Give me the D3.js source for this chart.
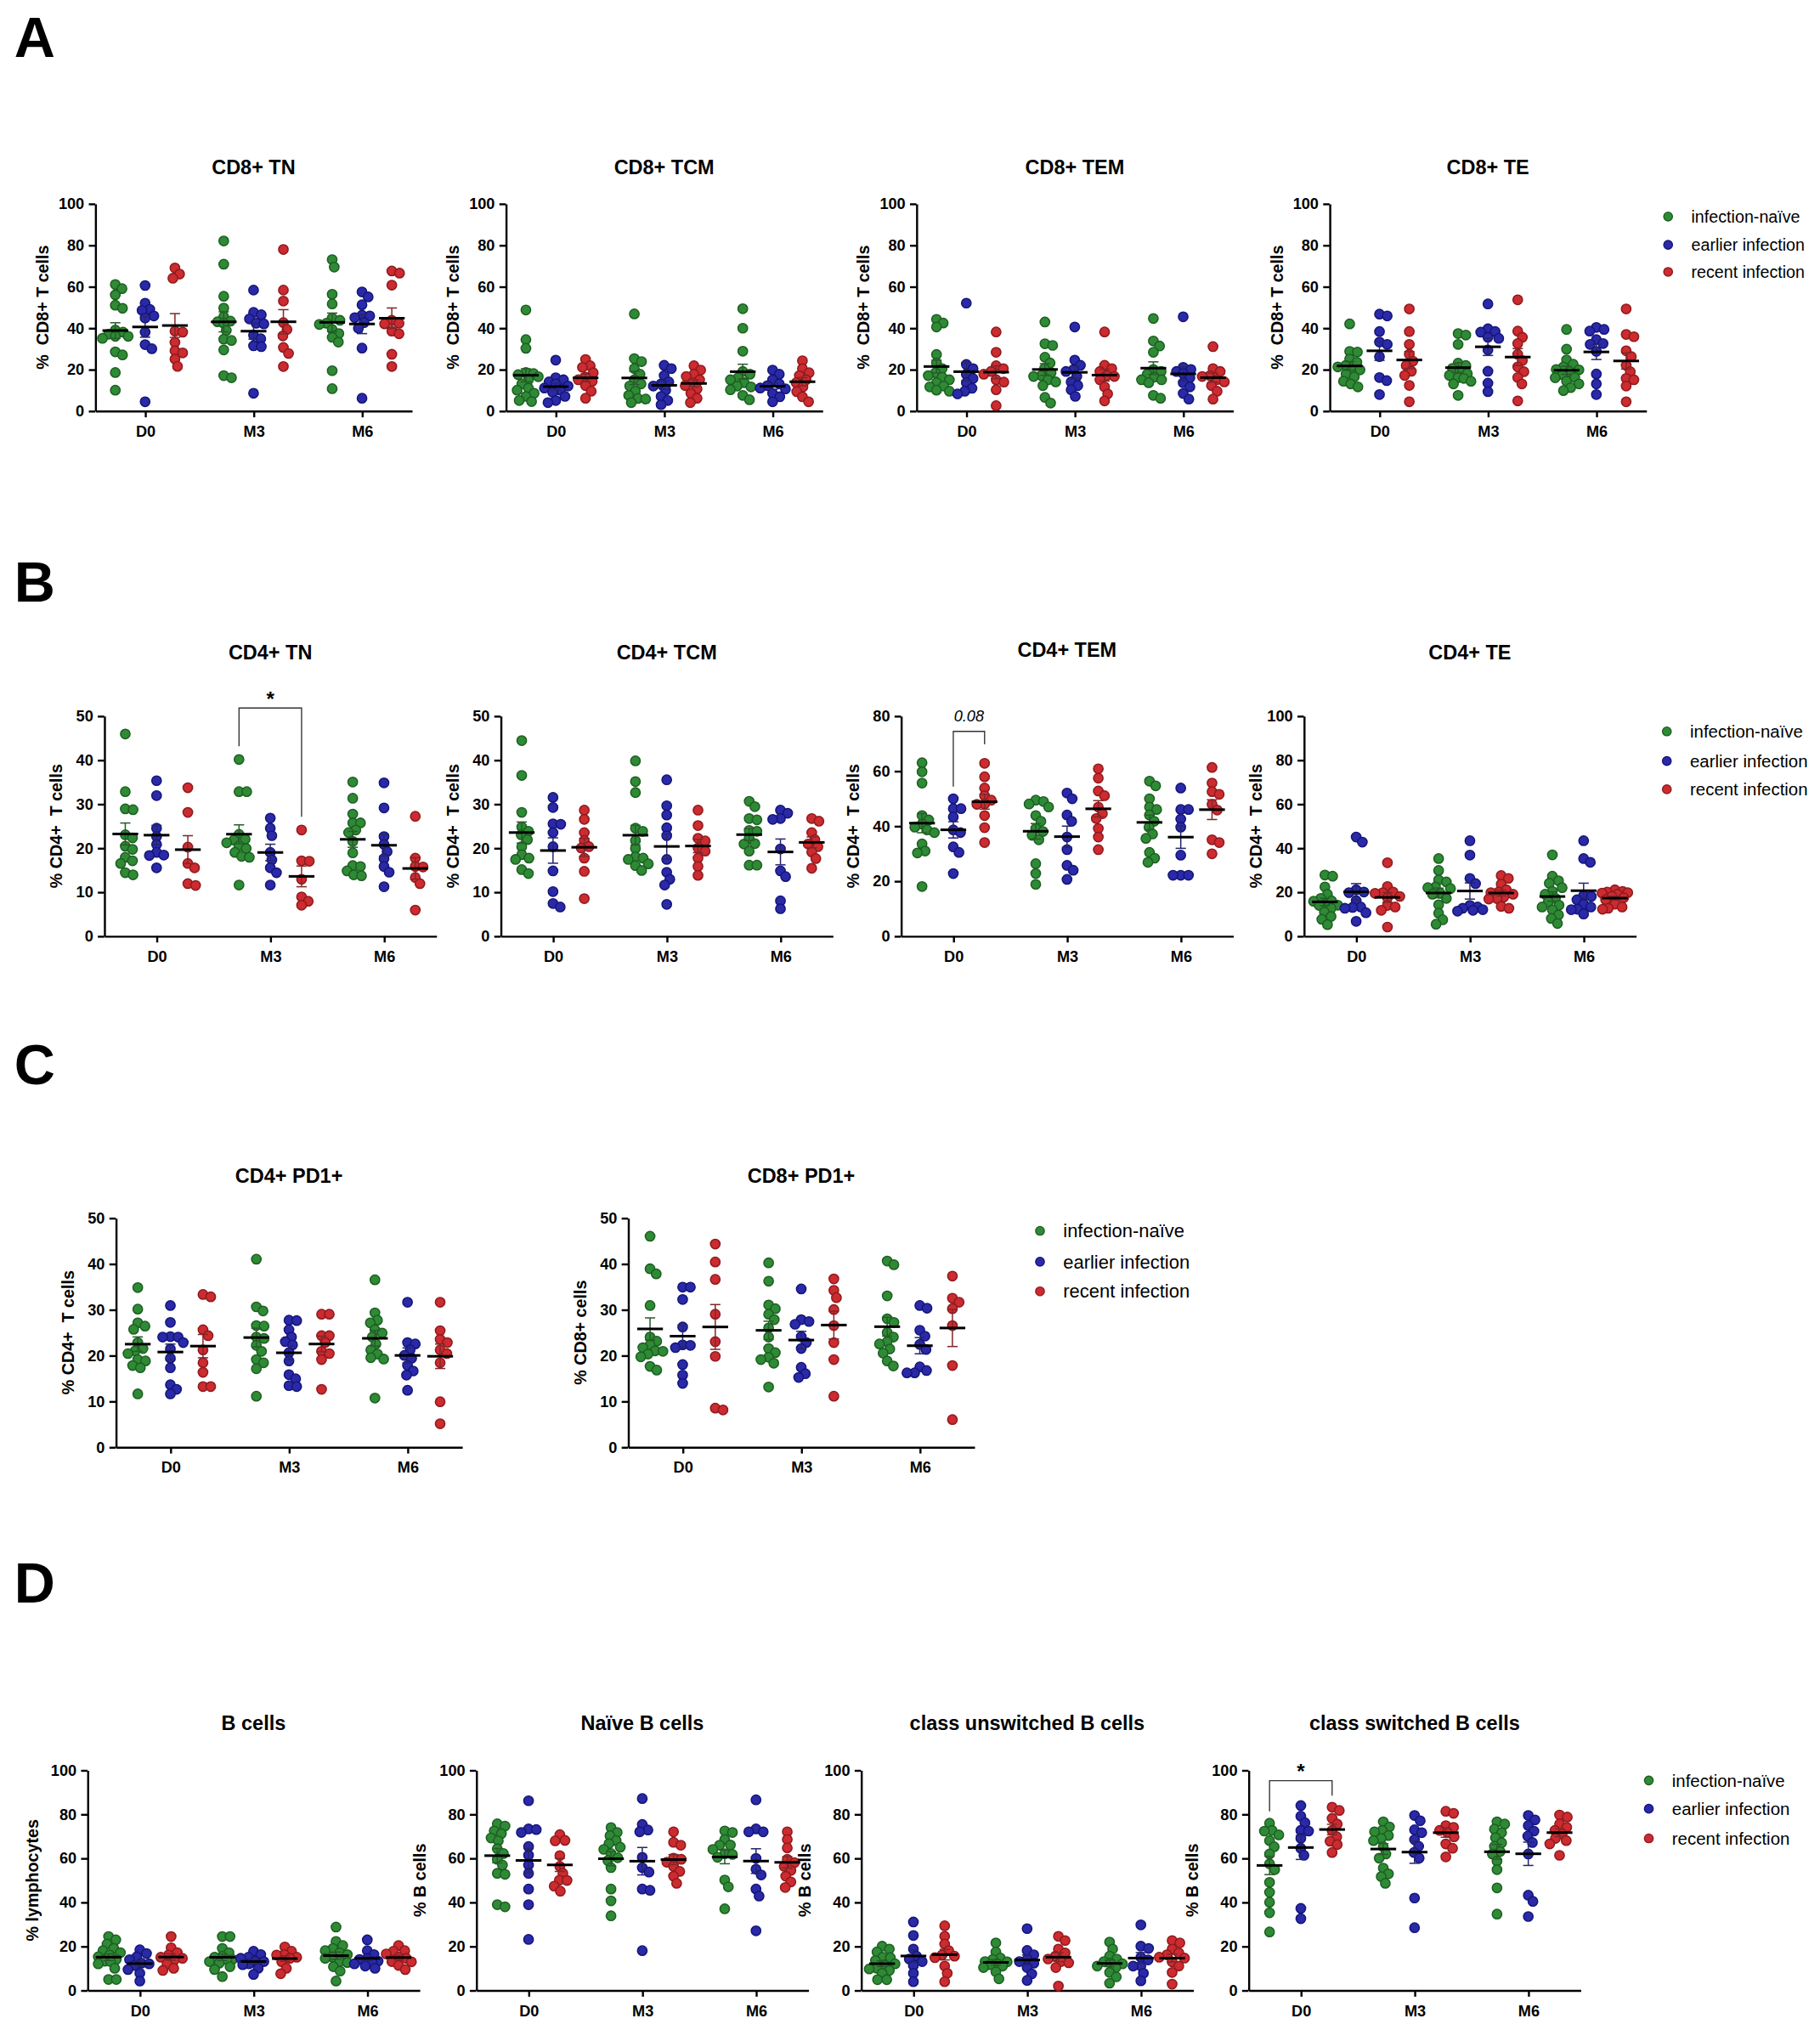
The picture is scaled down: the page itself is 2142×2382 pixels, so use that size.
<!DOCTYPE html>
<html>
<head>
<meta charset="utf-8">
<script src="https://cdn.jsdelivr.net/npm/d3@7"></script>
<style>
  body { margin: 0; background: #fff; }
  svg { display: block; }
  text { font-family: "Liberation Sans", Arial, sans-serif; }
</style>
</head>
<body>
<svg id="fig"></svg>
<script>
const timepoints = ["D0", "M3", "M6"];
const groups = ["infection-naïve", "earlier infection", "recent infection"];
const ticks100 = [0, 20, 40, 60, 80, 100];
const ticks80 = [0, 20, 40, 60, 80];
const ticks50 = [0, 10, 20, 30, 40, 50];

// each array: [D0 values, M3 values, M6 values]
// A  CD8+ TN
const cd8TN_naive = [[61,59,56,51,49.5,39,38,37,36,36,35,28.5,27,18.5,10],[82,70.8,55.3,49.6,45.4,43.3,43,42.3,38.8,34.6,34,29.4,17,16],[73,69.4,56.3,51.6,44.8,43.7,42.3,41.7,39.3,37.3,35.5,33.2,19.4,10.7]];
const cd8TN_earlier = [[60.5,52,49,48.5,45.8,44.8,38,32,30,4.4],[58.3,47.5,46.4,44.4,42.3,42,36.5,34.8,31.4,31,8.5],[57.4,55,51.2,46.2,45.8,45,42.6,39.9,30.3,6.1]];
const cd8TN_recent = [[69,66,64,38.5,38,33,28,29,25,21.5],[77.9,58.3,53,42.6,39.3,36.2,30.6,27.7,21.4],[67.5,66.5,60.7,43.7,42.3,42,38.5,37.2,27.3,21.4]];
// CD8+ TCM
const cd8TCM_naive = [[48.7,34.4,30.2,18.5,18,17.5,16.5,15,13,11,10,8.5,7,5,4.5],[46.8,25.2,23.8,20.4,17.7,15,13,12,9.5,7.5,6,5.7,4],[49.3,39.9,28.8,19,17.7,16,15,13.6,12,11.6,10.2,7.5,5.4]];
const cd8TCM_earlier = [[24.5,16,15,14,13,12,11,10,9,7,5,4],[22,20.4,17,14,13,12,10,7,5,3],[19.7,17.7,15,13,12.2,11,10.6,8.4,6.8,4.4]];
const cd8TCM_recent = [[24.8,21.8,21,18.4,16.3,15,14.3,12.2,9.5,6.1],[21.8,19.7,17.7,16.6,15,13.6,12.2,10.6,8.4,6.1,4],[24.2,20.4,18.4,17,15,13.6,11.6,9.3,6.8,4.4]];
// CD8+ TEM
const cd8TEM_naive = [[44.2,42.4,40.5,27.2,23.1,20.4,18.4,17,16.3,15,13.6,12,11.6,10,9.5],[42.9,32.4,31.6,25.9,23.1,20.4,18.4,17,16.6,15,14,12.2,6.5,3.8],[44.6,33.7,31.3,28.3,20,19,17.7,16.3,15,15,13.6,7.5,6.1]];
const cd8TEM_earlier = [[52,22.4,20.4,17.7,15.6,13.6,10.9,9.5,8.2],[40.5,24.5,22,20,19,16.6,14,12.2,10.2,7],[45.4,21,20,19,18,16,13.6,11.6,8.4,5.7]];
const cd8TEM_recent = [[38.1,28.3,21.8,20.4,19,17.7,15,13.9,10.2,2.5],[38.1,22,20.4,19,17,16.6,15,11.6,8.2,4.8],[31,20.4,19,17,16.6,15,14,12.2,9.5,5.7]];
// CD8+ TE
const cd8TE_naive = [[42,28.7,28.4,25,23.5,21.9,21.2,20,19.8,17.8,16.4,14.3,13,11.6],[37.3,36.6,32.1,23,21.9,20.5,19.1,18,17.1,16,15.7,14.3,13,7.5],[39.3,29.8,24.6,22.5,21.2,20,19.8,18.9,17.5,16.1,16,14.3,13,11.2,9.8]];
const cd8TE_earlier = [[46.7,45.8,38.3,33.2,32.1,26.2,16.1,14.6,7.9],[51.6,39.6,38.3,38,35.5,35,29.4,19.1,13.4,9.3],[40.3,39.3,38.5,34.4,32.5,32.1,28.7,17.8,13,7.9]];
const cd8TE_recent = [[49.2,38.3,32.1,27.3,24,21.9,19.1,17.1,12.3,4.4],[53.6,38.5,35.5,32.5,27.3,24.3,21.2,18.9,16.1,13,4.8],[49.2,36.9,35.8,29,26.2,22,18.9,15.7,15,12,4.4]];

// B  CD4+ TN
const cd4TN_naive = [[45.9,32.8,28.9,28.7,23,22.3,20.4,19.7,17.9,17.1,16.5,14.4,13.9],[40.1,32.8,32.8,23.1,22,21.8,21.2,20.5,19.9,19,18.1,17.9,11.6],[35,31.3,27.7,25.7,25.7,24.1,23.5,21.5,18.9,16,15.8,14.8,13.9,13.7]];
const cd4TN_earlier = [[35.3,31.9,24.5,22.6,20.8,19,18.4,18.3,15.5],[26.8,24.5,22.8,19,17.3,15.5,14.4,11.6],[34.8,29.1,22.6,20.8,19.2,17.6,15.8,14.5,11.2]];
const cd4TN_recent = [[33.7,28.1,20.2,16.5,15.5,11.9,11.5],[24.1,17.1,17,12.9,8.9,7.9,7],[27.2,17.7,15.8,15.7,13.3,11.9,5.9]];
// CD4+ TCM
const cd4TCM_naive = [[44.4,36.5,28.1,24.8,23.8,23,21.9,20.3,18.5,17.7,17.4,15.1,14.2],[39.8,35.1,32.6,24.5,23.8,21.7,19.9,18,17.7,17.4,16.4,16,14.9],[30.6,29.4,26.7,26.4,24,23.8,22.2,21,20.9,19.3,16.1,16.1]];
const cd4TCM_earlier = [[31.5,29.2,25.5,25.4,23.5,20.3,14.8,10.1,7.4,6.6],[35.5,29.6,27.5,24.6,22.8,17.4,14.5,12.9,11.6,7.2],[28.6,27.9,26.7,26.5,19.8,14.8,13.5,8,6.2]];
const cd4TCM_recent = [[28.6,26.5,23.5,21.7,20.3,20,17.7,14.7,8.5],[28.6,25.1,22.2,21.6,20,19.3,17.7,15.8,13.8],[26.7,26.1,23.5,21.9,20.9,20.3,19.1,17.6,15.4]];
// CD4+ TEM
const cd4TEM_naive = [[63,59.7,55.6,43.8,42.2,40.7,39.6,38.6,37.6,33.5,30.9,30.2,18],[49.4,48.9,48,46.9,43.8,41.7,39.1,38,36.6,35,26.3,22.7,18.8],[56.3,54.6,49.9,46.9,46,44,41.7,39.6,37.1,35.5,30.4,28.3,26.8]];
const cd4TEM_earlier = [[49.9,46.3,46.3,43.3,38.6,37.6,32.4,30.4,22.7],[52,49.9,44,41.7,36,31.4,25.7,23.9,20.6],[53.8,46,46,42.5,39.6,29.4,22.1,22.1,22.1]];
const cd4TEM_recent = [[62.8,57.9,53.8,51,49.4,48,47.9,43.8,39.4,34],[60.8,57.4,52.7,51,46.9,44.5,42.7,39.1,36,31.4],[61.3,55.6,52.5,51.5,47.9,45.8,35,34,29.9]];
// CD4+ TE
const cd4TE_naive = [[27.7,27.2,22.3,19,17.1,16,15.8,14.5,14,13.9,12.6,10.9,8.9,7.6,5.2],[35.2,29.8,25.5,24.6,22.3,22,21.6,19.4,19,17.1,14.2,10.4,7.4,5.4],[36.9,27.2,25.1,24,22,20.3,19,17.1,15.5,14,13.2,11.9,9.6,8,5.7]];
const cd4TE_earlier = [[45,42.7,21,20,19.7,16.1,13.2,13,12.6,10.6,6.7],[43.3,36.8,26.2,23.8,13.9,13.2,12.6,12,11.7,11.3],[43.3,35.2,33.5,18.4,18,16.5,14.5,13.2,12.2,12,10]];
const cd4TE_recent = [[33.3,22.5,20,19.7,19.4,18,17.4,13.9,13.2,11.7,4.1],[27.5,26.2,23.6,21,20,19.7,19,17.7,17,16.8,13.5,12.6],[21,20.3,20,19.7,19.5,19,18.1,17.4,16.5,14.5,13.2,12.6,12.2]];

// C  CD4+ PD1+
const cd4PD1_naive = [[34.8,30.1,27.1,26.4,25.7,22.8,21.5,21,20.4,19.1,18.8,17.8,17.3,11.6],[41,30.6,29.7,26.5,26.4,24,23.7,22.2,20.9,19.1,18.4,17.1,11.1],[36.5,29.3,27.7,27.1,25.6,24.9,24,22.5,21.2,20.3,19.5,19.2,10.7]];
const cd4PD1_earlier = [[30.9,27.2,24.1,24,24,22.8,21.4,19.4,17.3,13.6,12.6,11.6],[27.7,27.6,25.6,24,23,22.3,20.6,18.8,15.8,14.9,13.4,13.2],[31.6,22.8,22.5,21.2,20,19.4,17.8,16.6,15.7,12.4]];
const cd4PD1_recent = [[33.3,32.8,25.6,24.3,21.2,18.4,16.3,13.2,13.2],[29,29,24.3,24.3,22.8,20.9,20.4,19.1,12.6],[31.6,25.4,23.5,22.8,21.2,20.4,18.4,9.9,5.1]];
// CD8+ PD1+
const cd8PD1_naive = [[46,38.9,37.8,30.9,24,23.1,22.3,21.7,21,20.9,20.3,19.7,17.6,16.8],[40.2,36.2,31,30.2,29,27.8,26,24,21.5,20.6,19.6,19.1,18.3,13.1],[40.6,39.8,33,28,27.2,25,24,23,22.5,21.4,20.5,18.8,17.7]];
const cd8PD1_earlier = [[34.9,34.9,32.2,26.2,22.3,22.2,21.7,18,15.7,13.9],[34.5,27.8,27.4,26.8,24.1,22.8,21.5,17.4,16,15.2],[30.9,30.3,25.5,24.2,22.4,21.3,17.5,16.7,16.2,16.2]];
const cd8PD1_recent = [[44.3,40.4,36.6,29,23,19.8,8.5,8.1],[36.7,34.2,32.6,30,26.5,22.8,19.1,11.1],[37.3,32.5,31.6,30.2,26.5,17.8,6]];

// D  B cells
const bCells_naive = [[24.4,22.9,21,19,18,17.1,16,15.2,14,13.2,13,12,10,4.9,4.9],[24.4,24.4,19,17.1,15.4,15,14,13.9,13,12.3,10.7,9.4,6.2],[28.7,22.2,20.3,19,18,17,16.2,15,14.5,13,12.6,10.7,8.7,4.2]];
const bCells_earlier = [[18.4,16.7,15.2,13.9,12.3,12,11.3,9.4,7.7,4.2],[17.7,16.2,15,14.5,13.2,13,12,11.6,10,7.2],[22.9,18,16.2,14.5,14,13.2,13,12,11,10]];
const bCells_recent = [[24.4,19.3,17.1,16,15,14.5,13.6,12,10,9],[19.7,17.7,16.2,16,15,14.5,12.9,10,7.5],[20.3,18,17.7,16.5,15,14.5,13,12.9,11.3,9.4]];
// Naive B cells
const naiveB_naive = [[75.6,74.6,72.4,71.1,69.2,67.9,64.3,62.1,59.5,56.9,53.1,52.7,38.9,37.9],[73.9,71.7,70.2,68,66.6,65,64,62.1,60.2,58.9,55.7,46,40.6,33.8],[72.4,71.7,68.5,66,65.9,64,62,61.7,60.4,50.1,47,37]];
const naiveB_earlier = [[86.1,73.3,73,71.7,65.3,61.4,56.9,53.1,46,38.9,23.1],[87.1,75.3,72.8,72,60.4,55.7,53.7,46,45.4,18],[86.5,73.3,72,72,59.9,55,52.4,46,42.8,27]];
const naiveB_recent = [[70.7,68.1,67.9,61.2,56.3,53.1,50,49.9,47.3,45],[72,67.2,65.9,60,59.5,58.2,56.3,54,51.8,48.6],[72,68.5,64.7,59.5,58,56.3,54.4,51.8,49.2,46.7]];
// class unswitched B cells
const unswB_naive = [[20,18.7,17.4,15,14.8,13.5,12,11.6,10,9.7,9,7.7,4.8,4.8],[21.5,17.4,14.6,14,13,12.9,12,11.6,11,10.3,8.4,5.2],[21.9,18.7,15.5,14.2,13,12.3,12,11,10.3,8.1,6.1,3.2]];
const unswB_earlier = [[31,24.9,18.7,15.5,14.2,13,11.2,7.7,3.9],[28,18.1,16.1,14,13,12.3,10.3,7.4,4.5],[29.7,20,19,15,13.8,11,11,7.7,4.3]];
const unswB_recent = [[29.3,24.5,21,18,16,15.5,14.8,11,7.7,3.9],[24.5,22.6,18.7,17,15.5,14.2,13,12.5,10.3,1.9],[22.6,21.5,18.7,17,16.1,15,14.6,12.9,11,8.1,2.8]];
// class switched B cells
const swB_naive = [[75.9,72.6,72.3,70.6,68,65.2,61.9,57.4,54.8,49,44.5,40,35.2,26.5],[76.5,74.2,72.6,72,70.3,69,68,65.2,61.9,60,55.5,52.9,51.6,48.6],[76.5,75.5,73.2,71.6,69.3,67,65.4,63,61.9,58.7,54.8,46.5,34.6]];
const swB_earlier = [[83.9,79.1,76.1,72.6,72.3,69,64.5,61.3,37.2,32.5],[79.4,77,72.9,71.6,68.4,65.4,62.6,60,41.9,28.4],[79.4,77.4,74.8,72.3,70,67.1,61.9,43.2,40.4,33.5]];
const swB_recent = [[83.2,81.7,78.1,75.5,72.6,69.7,67.7,66.2,62.6],[81.3,80.4,74.8,74,72.6,71.6,69.7,66.5,64.5,60.6],[79.6,78.7,75.5,74,72.6,71,69,68,66.5,61.3]];

// significance brackets: timepoint, two groups, bracket top and leg ends in axis units
const cd4TN_sig = { time: "M3", a: 0, b: 2, top: 51.8, ends: [43.1, 27.1], label: "*" };
const cd4TEM_sig = { time: "D0", a: 1, b: 2, top: 74.4, ends: [54.3, 69.7], label: "0.08" };
const swB_sig = { time: "D0", a: 0, b: 2, top: 95.2, ends: [81.3, 88.4], label: "*" };

// ---- drawing ----
const fill = ["#2f8a35", "#2a2aa8", "#cc2b30"];
const edge = ["#1d5f22", "#15157a", "#8f1a1d"];
const R = 3.7;

const svg = d3.select("#fig")
  .attr("width", 2142).attr("height", 2382)
  .attr("viewBox", "0 0 1414 1572");

const panels = [
  {title: "CD8+ TN",  ylab: "%  CD8+ T cells", s: [cd8TN_naive, cd8TN_earlier, cd8TN_recent],   ticks: ticks100, x0: 74,   top: 158, bot: 319, w: 246, ty: 135, lo: 41},
  {title: "CD8+ TCM", ylab: "%  CD8+ T cells", s: [cd8TCM_naive, cd8TCM_earlier, cd8TCM_recent], ticks: ticks100, x0: 393,  top: 158, bot: 319, w: 246, ty: 135, lo: 41},
  {title: "CD8+ TEM", ylab: "%  CD8+ T cells", s: [cd8TEM_naive, cd8TEM_earlier, cd8TEM_recent], ticks: ticks100, x0: 712,  top: 158, bot: 319, w: 246, ty: 135, lo: 41},
  {title: "CD8+ TE",  ylab: "%  CD8+ T cells", s: [cd8TE_naive, cd8TE_earlier, cd8TE_recent],    ticks: ticks100, x0: 1033, top: 158, bot: 319, w: 246, ty: 135, lo: 41},

  {title: "CD4+ TN",  ylab: "% CD4+  T cells", s: [cd4TN_naive, cd4TN_earlier, cd4TN_recent],    ticks: ticks50,  x0: 81,   top: 556, bot: 727, w: 258, ty: 512, lo: 37, sig: cd4TN_sig},
  {title: "CD4+ TCM", ylab: "% CD4+  T cells", s: [cd4TCM_naive, cd4TCM_earlier, cd4TCM_recent], ticks: ticks50,  x0: 389,  top: 556, bot: 727, w: 258, ty: 512, lo: 37},
  {title: "CD4+ TEM", ylab: "% CD4+  T cells", s: [cd4TEM_naive, cd4TEM_earlier, cd4TEM_recent], ticks: ticks80,  x0: 700,  top: 556, bot: 727, w: 258, ty: 510, lo: 37, sig: cd4TEM_sig},
  {title: "CD4+ TE",  ylab: "% CD4+  T cells", s: [cd4TE_naive, cd4TE_earlier, cd4TE_recent],    ticks: ticks100, x0: 1013, top: 556, bot: 727, w: 258, ty: 512, lo: 37},

  {title: "CD4+ PD1+", ylab: "% CD4+  T cells", s: [cd4PD1_naive, cd4PD1_earlier, cd4PD1_recent], ticks: ticks50, x0: 90,  top: 946, bot: 1124, w: 269, ty: 919, lo: 37},
  {title: "CD8+ PD1+", ylab: "% CD8+ cells",    s: [cd8PD1_naive, cd8PD1_earlier, cd8PD1_recent], ticks: ticks50, x0: 488, top: 946, bot: 1124, w: 269, ty: 919, lo: 37},

  {title: "B cells",                  ylab: "% lymphocytes", s: [bCells_naive, bCells_earlier, bCells_recent], ticks: ticks100, x0: 68,  top: 1375, bot: 1546, w: 258, ty: 1344, lo: 43},
  {title: "Naïve B cells",            ylab: "% B cells",     s: [naiveB_naive, naiveB_earlier, naiveB_recent], ticks: ticks100, x0: 370, top: 1375, bot: 1546, w: 258, ty: 1344, lo: 44},
  {title: "class unswitched B cells", ylab: "% B cells",     s: [unswB_naive, unswB_earlier, unswB_recent],    ticks: ticks100, x0: 669, top: 1375, bot: 1546, w: 258, ty: 1344, lo: 44},
  {title: "class switched B cells",   ylab: "% B cells",     s: [swB_naive, swB_earlier, swB_recent],          ticks: ticks100, x0: 970, top: 1375, bot: 1546, w: 258, ty: 1344, lo: 44, sig: swB_sig}
];

const legends = [
  {x: 1296, y: [168, 190, 211], fs: 13},
  {x: 1295, y: [568, 591, 613], fs: 13.5},
  {x: 808,  y: [956, 980, 1003], fs: 14.5},
  {x: 1281, y: [1383, 1405, 1428], fs: 13.5}
];

const letters = [["A", 44], ["B", 467], ["C", 842], ["D", 1245]];

// swarm: points placed in value order, nudged sideways within a narrow band;
// partial overlap is allowed like the original scatter dot plots
function swarm(vals, y) {
  const pts = vals.map(v => ({ v: v, y: y(v), dx: 0 })).sort((a, b) => a.y - b.y);
  const placed = [];
  const d = 2 * R * 0.8, maxDx = 10;
  pts.forEach(p => {
    let best = 0, bestGap = -1;
    for (let k = 0; k <= 2 * maxDx / 0.4; k++) {
      const c = (k % 2 ? 1 : -1) * Math.ceil(k / 2) * 0.4;
      const gap = placed.length ? d3.min(placed, q => Math.hypot(q.dx - c, q.y - p.y)) : Infinity;
      if (gap >= d) { best = c; bestGap = gap; break; }
      if (gap > bestGap + 0.5) { best = c; bestGap = gap; }
    }
    p.dx = best;
    placed.push(p);
  });
  return pts;
}

function drawPanel(p) {
  const g = svg.append("g");
  const y = d3.scaleLinear().domain([0, d3.max(p.ticks)]).range([p.bot, p.top]);
  const x = d3.scalePoint().domain(timepoints).range([p.x0, p.x0 + p.w]).padding(0.46);
  const off = x.step() * 0.275;

  const ya = g.append("g").attr("transform", `translate(${p.x0},0)`)
    .call(d3.axisLeft(y).tickValues(p.ticks).tickSize(5).tickSizeOuter(0).tickPadding(3.5));
  const xa = g.append("g").attr("transform", `translate(0,${p.bot})`)
    .call(d3.axisBottom(x).tickSize(5).tickSizeOuter(0).tickPadding(6.5));
  [ya, xa].forEach(a => {
    a.attr("font-family", null).attr("font-size", 12).attr("font-weight", "bold");
    a.selectAll("path, line").attr("stroke", "#000").attr("stroke-width", 1.6);
    a.selectAll("text").attr("fill", "#000");
  });

  g.append("text").attr("x", p.x0 + p.w / 2).attr("y", p.ty)
    .attr("text-anchor", "middle").attr("font-size", 15.5).attr("font-weight", "bold").text(p.title);

  const cy = (p.top + p.bot) / 2;
  g.append("text").attr("transform", `translate(${p.x0 - p.lo + 4.5},${cy}) rotate(-90)`)
    .attr("text-anchor", "middle").attr("font-size", 13).attr("font-weight", "bold")
    .style("white-space", "pre").text(p.ylab);

  p.s.forEach((ser, gi) => {
    ser.forEach((vals, ti) => {
      const cx = x(timepoints[ti]) + (gi - 1) * off;
      g.append("g").selectAll("circle").data(swarm(vals, y)).join("circle")
        .attr("cx", d => cx + d.dx).attr("cy", d => d.y).attr("r", R)
        .attr("fill", fill[gi]).attr("stroke", edge[gi]).attr("stroke-width", 1);

      const m = d3.mean(vals), se = d3.deviation(vals) / Math.sqrt(vals.length);
      const ec = d3.interpolateRgb(fill[gi], "#222")(0.45);
      const eb = g.append("g").attr("stroke", ec).attr("stroke-width", 1);
      eb.append("line").attr("x1", cx).attr("x2", cx).attr("y1", y(m - se)).attr("y2", y(m + se));
      [m - se, m + se].forEach(v => eb.append("line")
        .attr("x1", cx - 4).attr("x2", cx + 4).attr("y1", y(v)).attr("y2", y(v)));
      g.append("line").attr("x1", cx - 10).attr("x2", cx + 10).attr("y1", y(m)).attr("y2", y(m))
        .attr("stroke", "#000").attr("stroke-width", 2);
    });
  });

  if (p.sig) {
    const s = p.sig;
    const xa0 = x(s.time) + (s.a - 1) * off, xb0 = x(s.time) + (s.b - 1) * off;
    g.append("path")
      .attr("d", `M${xa0},${y(s.ends[0])}V${y(s.top)}H${xb0}V${y(s.ends[1])}`)
      .attr("fill", "none").attr("stroke", "#333").attr("stroke-width", 0.9);
    const star = s.label === "*";
    g.append("text").attr("x", (xa0 + xb0) / 2).attr("y", y(s.top) - (star ? 1.5 : 7.5))
      .attr("text-anchor", "middle")
      .attr("font-size", star ? 16 : 12)
      .attr("font-weight", star ? "bold" : "normal")
      .attr("font-style", star ? "normal" : "italic")
      .text(s.label);
  }
}

panels.forEach(drawPanel);

legends.forEach(l => {
  const g = svg.append("g");
  groups.forEach((name, i) => {
    g.append("circle").attr("cx", l.x).attr("cy", l.y[i]).attr("r", 3.4)
      .attr("fill", fill[i]).attr("stroke", edge[i]).attr("stroke-width", 0.9);
    g.append("text").attr("x", l.x + 18).attr("y", l.y[i] + l.fs * 0.35)
      .attr("font-size", l.fs).text(name);
  });
});

letters.forEach(([t, yb]) => {
  svg.append("text").attr("x", 11).attr("y", yb)
    .attr("font-size", 44).attr("font-weight", "bold").text(t);
});
</script>
</body>
</html>
